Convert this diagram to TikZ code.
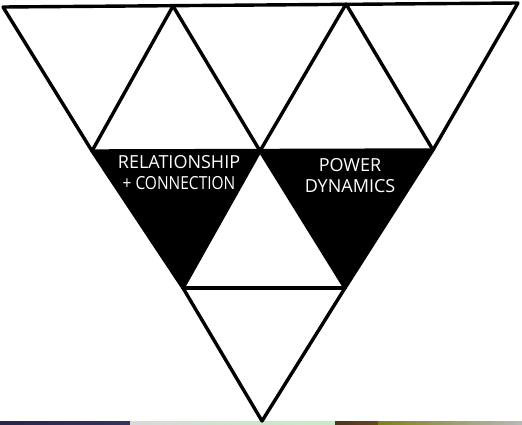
\documentclass[tikz,border=0pt]{standalone}
\usepackage{fontspec}
\setmainfont{Open Sans}
\begin{document}
\begin{tikzpicture}[x=1pt,y=-1pt,
  edge/.style={line width=3.4pt,line join=round,line cap=round},
  dark/.style={fill=black},
  lbl/.style={text=white,font=\fontsize{18}{21}\selectfont,align=center,inner sep=0pt}]
\useasboundingbox[fill=white] (0,0) rectangle (522,425);
% bottom strip (screenshot band)
\fill[left color=black!80!blue!70!gray,right color=black!70!blue!60!gray] (0,421) rectangle (130,425);
\fill[left color=gray!30!white,right color=gray!45!green!30!white] (130,421) rectangle (335,425);
\fill[left color=brown!40!black,right color=brown!55!black] (335,421) rectangle (378,425);
\fill[left color=olive!40!gray,right color=gray!55!white] (378,421) rectangle (522,425);
% vertices
\coordinate (A0) at (3,7);
\coordinate (A1) at (173,6);
\coordinate (A2) at (346,4);
\coordinate (A3) at (518,3);
\coordinate (B0) at (92,151);
\coordinate (B1) at (260,151);
\coordinate (B2) at (433,150);
\coordinate (C0) at (183,288);
\coordinate (C1) at (345,288);
\coordinate (D) at (262,421);
% black triangles
\fill[dark] (B0) -- (B1) -- (C0) -- cycle;
\fill[dark] (B1) -- (B2) -- (C1) -- cycle;
% outline and grid
\draw[edge] (A0) -- (A3) -- (B2) -- (C1) -- (D) -- (C0) -- (B0) -- cycle;
\draw[edge] (B0) -- (B2);
\draw[edge] (C0) -- (C1);
\draw[edge] (A1) -- (B0);
\draw[edge] (A1) -- (B1) -- (C1);
\draw[edge] (A2) -- (B1) -- (C0);
\draw[edge] (A2) -- (B2);
% labels
\node[lbl] (rel) at (179,173) {RELATIONSHIP\\\scalebox{0.86}[1]{+ CONNECTION}};
\node[lbl] (pow) at (350,176) {POWER\\DYNAMICS};
\end{tikzpicture}
\end{document}
